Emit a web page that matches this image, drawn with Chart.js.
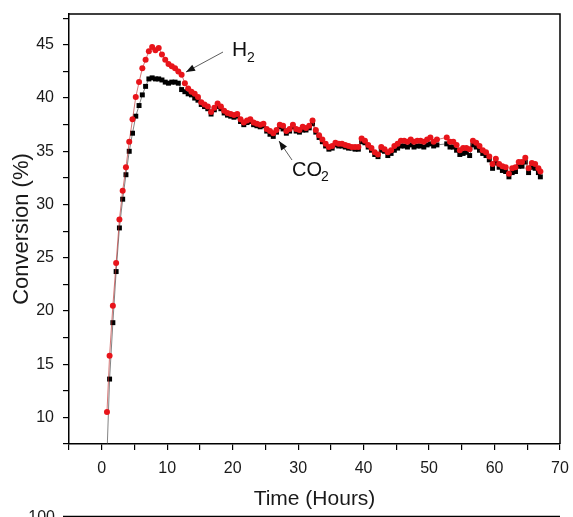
<!DOCTYPE html>
<html>
<head>
<meta charset="utf-8">
<script src="https://cdn.jsdelivr.net/npm/chart.js@4/dist/chart.umd.min.js"></script>
<style>
html,body{margin:0;padding:0;background:#fff;}
#wrap{width:573px;height:517px;position:relative;}
</style>
</head>
<body>
<div id="wrap"><canvas id="c" width="573" height="517"></canvas></div>
<script>
const times = [0.8,1.2,1.7,2.2,2.7,3.2,3.7,4.2,4.7,5.2,5.7,6.2,6.7,7.2,7.7,8.2,8.7,9.2,9.7,10.2,10.7,11.2,11.7,12.2,12.7,13.2,13.7,14.2,14.7,15.2,15.7,16.2,16.7,17.2,17.7,18.2,18.7,19.2,19.7,20.2,20.7,21.2,21.7,22.2,22.7,23.2,23.7,24.2,24.7,25.2,25.7,26.2,26.7,27.2,27.7,28.2,28.7,29.2,29.7,30.2,30.7,31.2,31.7,32.2,32.7,33.2,33.7,34.2,34.7,35.2,35.7,36.2,36.7,37.2,37.7,38.2,38.7,39.2,39.7,40.2,40.7,41.2,41.7,42.2,42.7,43.2,43.7,44.2,44.7,45.2,45.7,46.2,46.7,47.2,47.7,48.2,48.7,49.2,49.7,50.2,50.7,51.2,52.7,53.2,53.7,54.2,54.7,55.2,55.7,56.2,56.7,57.2,57.7,58.2,58.7,59.2,59.7,60.2,60.7,61.2,61.7,62.2,62.7,63.2,63.7,64.2,64.7,65.2,65.7,66.2,66.7,67.0];

const h2Conversion = [10.5,15.8,20.5,24.5,28.6,31.3,33.5,35.9,38.0,40.1,41.5,42.8,43.6,44.4,44.8,44.5,44.7,44.1,43.6,43.2,43.0,42.8,42.5,42.2,41.4,40.9,40.6,40.4,40.1,39.6,39.4,39.2,38.7,39.1,39.5,39.2,38.8,38.6,38.5,38.4,38.5,38.0,37.7,37.9,38.0,37.7,37.6,37.5,37.6,37.1,36.9,36.7,37.0,37.5,37.4,36.9,37.1,37.5,37.1,37.0,37.3,37.2,37.4,37.9,37.0,36.5,36.1,35.7,35.4,35.5,35.8,35.7,35.7,35.6,35.5,35.4,35.4,35.4,36.2,36.0,35.6,35.3,34.9,34.7,35.4,35.2,34.9,35.1,35.5,35.7,36.0,36.0,35.9,36.1,35.9,36.0,36.0,35.9,36.1,36.3,35.9,36.1,36.3,35.9,35.9,35.6,35.1,35.3,35.3,35.2,36.0,35.8,35.5,35.1,34.9,34.5,33.8,34.3,33.8,33.6,33.5,32.9,33.4,33.5,34.0,34.0,34.4,33.4,33.9,33.8,33.4,33.1];

const co2Conversion = [6.5,13.6,18.9,23.7,27.8,30.5,32.8,35.0,36.7,38.3,39.3,40.3,41.1,41.8,41.9,41.8,41.8,41.7,41.5,41.4,41.5,41.5,41.4,40.8,40.6,40.4,40.3,40.0,39.8,39.4,39.2,39.0,38.5,38.9,39.2,39.0,38.6,38.4,38.3,38.2,38.3,37.8,37.5,37.7,37.8,37.5,37.4,37.3,37.4,36.9,36.6,36.4,36.8,37.3,37.1,36.7,36.9,37.3,36.9,36.8,37.0,37.0,37.2,37.6,36.8,36.3,35.9,35.5,35.2,35.3,35.6,35.5,35.5,35.4,35.3,35.3,35.2,35.2,35.9,35.8,35.4,35.1,34.7,34.5,35.1,35.0,34.6,34.8,35.1,35.3,35.5,35.5,35.4,35.6,35.4,35.5,35.5,35.4,35.6,35.7,35.5,35.6,35.7,35.4,35.4,35.1,34.7,34.8,34.9,34.6,35.6,35.4,35.1,34.8,34.6,34.2,33.4,33.9,33.5,33.2,33.1,32.6,33.0,33.1,33.6,33.6,34.0,33.0,33.5,33.4,33.0,32.6];

const xTickValues = [0,10,20,30,40,50,60,70];
const yTickValues = [10,15,20,25,30,35,40,45];

const FONT = "'Liberation Sans', Arial, sans-serif";

const h2Points = times.map((t,i)=>({x:t,y:h2Conversion[i]}));
const co2Points = times.map((t,i)=>({x:t,y:co2Conversion[i]}));

function isMajor(v, list){ return list.some(m => Math.abs(m - v) < 1e-6); }

const decor = {
  id:'decor',
  afterDraw(chart){
    const ctx = chart.ctx;
    const a = chart.chartArea;
    ctx.save();
    ctx.strokeStyle = '#000';
    ctx.lineWidth = 1.5;
    ctx.beginPath();
    ctx.moveTo(a.left, a.top); ctx.lineTo(a.right, a.top); ctx.lineTo(a.right, a.bottom);
    ctx.stroke();

    function arrow(x1,y1,x2,y2){
      ctx.strokeStyle = '#333'; ctx.lineWidth = 0.8;
      ctx.beginPath(); ctx.moveTo(x1,y1); ctx.lineTo(x2,y2); ctx.stroke();
      const ang = Math.atan2(y2-y1, x2-x1);
      const L = 9, W = 3.5;
      ctx.fillStyle = '#111';
      ctx.beginPath();
      ctx.moveTo(x2,y2);
      ctx.lineTo(x2 - L*Math.cos(ang) + W*Math.sin(ang), y2 - L*Math.sin(ang) - W*Math.cos(ang));
      ctx.lineTo(x2 - L*Math.cos(ang) - W*Math.sin(ang), y2 - L*Math.sin(ang) + W*Math.cos(ang));
      ctx.closePath(); ctx.fill();
    }
    arrow(223,52,186,72);
    arrow(292,160,279,141);

    ctx.fillStyle = '#111';
    ctx.textBaseline = 'alphabetic';
    ctx.textAlign = 'left';
    ctx.font = "21px " + FONT;
    ctx.fillText('H', 232, 56);
    ctx.font = "14px " + FONT;
    ctx.fillText('2', 247, 62);
    ctx.font = "20px " + FONT;
    ctx.fillText('CO', 292, 176);
    ctx.font = "14px " + FONT;
    ctx.fillText('2', 321, 181);

    ctx.strokeStyle = '#000'; ctx.lineWidth = 1.5;
    ctx.beginPath(); ctx.moveTo(63, 516.5); ctx.lineTo(a.right, 516.5); ctx.stroke();
    ctx.font = "16px " + FONT;
    ctx.textAlign = 'right';
    ctx.textBaseline = 'middle';
    ctx.fillStyle = '#1a1a1a';
    ctx.fillText('100', 55, 518);
    ctx.restore();
  }
};

new Chart(document.getElementById('c'), {
  type:'line',
  data:{
    datasets:[
      {
        label:'H2', data:h2Points,
        borderColor:'rgba(190,40,40,0.8)', borderWidth:0.8,
        pointStyle:'circle', pointRadius:3, pointBackgroundColor:'#e8141a', pointBorderWidth:0,
        tension:0
      },
      {
        label:'CO2', data:co2Points,
        borderColor:'rgba(60,60,60,0.8)', borderWidth:0.8,
        pointStyle:'rect', pointRadius:3.5, pointBackgroundColor:'#000', pointBorderWidth:0,
        tension:0
      }
    ]
  },
  options:{
    responsive:false, animation:false,
    layout:{padding:{top:14, right:13, left:0, bottom:0}},
    plugins:{legend:{display:false}, tooltip:{enabled:false}},
    scales:{
      x:{
        type:'linear', min:-5, max:70,
        afterFit(s){ s.height = 73; s.paddingRight = 0; s.paddingLeft = 0; },
        ticks:{stepSize:5, autoSkip:false, maxRotation:0, padding:9,
          color:'#1a1a1a', font:{family:FONT, size:16},
          callback:(v)=> isMajor(v, xTickValues) ? String(v) : ''},
        grid:{drawOnChartArea:false, drawTicks:true, tickLength:6, color:'#000', lineWidth:1.2},
        border:{color:'#000', width:1.5},
        title:{display:true, text:'Time (Hours)', color:'#1a1a1a', font:{family:FONT, size:21}, padding:{top:0,bottom:5}}
      },
      y:{
        type:'linear', min:7.5, max:47.9,
        afterFit(s){ s.width = 69; s.paddingTop = 0; s.paddingBottom = 0; },
        ticks:{stepSize:2.5, includeBounds:false, autoSkip:false, padding:9,
          color:'#1a1a1a', font:{family:FONT, size:16},
          callback:(v)=> isMajor(v, yTickValues) ? String(v) : ''},
        grid:{drawOnChartArea:false, drawTicks:true, tickLength:6, color:'#000', lineWidth:1.2},
        border:{color:'#000', width:1.5},
        title:{display:true, text:'Conversion (%)', color:'#1a1a1a', font:{family:FONT, size:22}, padding:{top:9,bottom:0}}
      }
    }
  },
  plugins:[decor]
});
</script>
</body>
</html>
